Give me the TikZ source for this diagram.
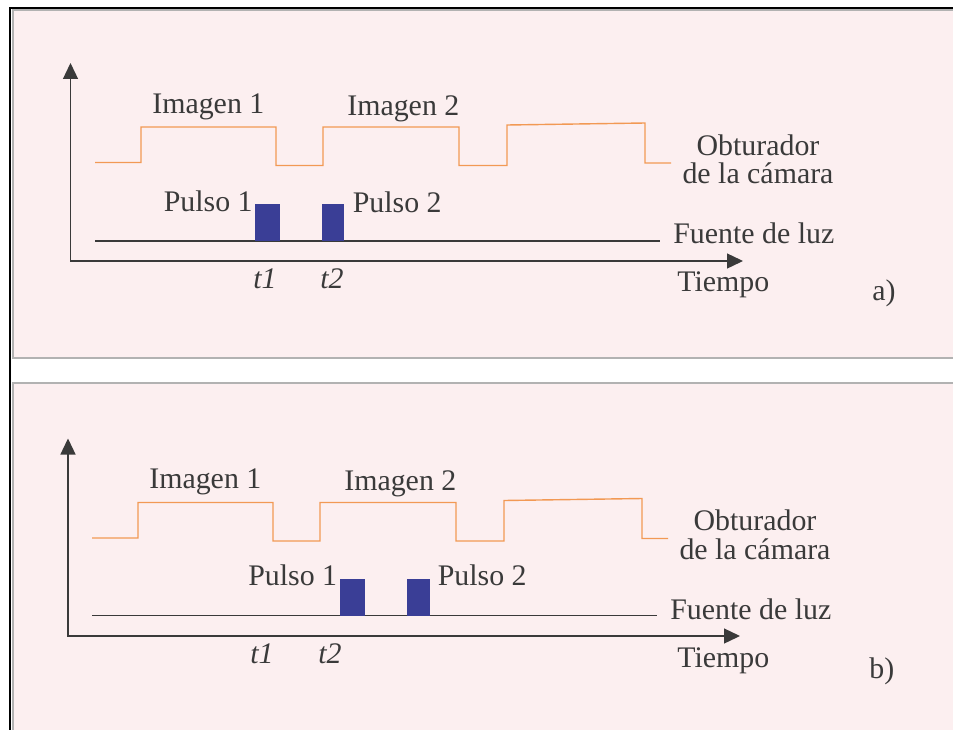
\documentclass[tikz,border=0pt]{standalone}
\usepackage{fontspec}
\setmainfont{Liberation Serif}
\usetikzlibrary{arrows.meta}
\definecolor{panelpink}{RGB}{252,239,240}
\definecolor{shutter}{RGB}{242,153,84}
\definecolor{pulseblue}{RGB}{58,62,150}
\definecolor{ink}{RGB}{58,58,58}
\tikzset{
  lbl/.style={inner sep=0pt, text=ink, font=\fontsize{17}{16.1}\selectfont},
  axis/.style={draw=ink, line width=0.75pt,
    arrows={Triangle[length=3.2mm,width=3mm]-Triangle[length=3.2mm,width=3mm]}},
  obt/.style={draw=shutter, line width=0.8pt},
  luz/.style={draw=ink, line width=0.6pt},
  pulso/.style={fill=pulseblue},
  panel/.style={fill=panelpink, draw=black!30, line width=0.6pt}
}
\begin{document}
\begin{tikzpicture}
		\useasboundingbox (0,0) rectangle (19.06,-14.58);
		% marco y fondos
		\fill[white] (0,0) rectangle (19.06,-14.58);
		\draw[panel] (0.26,-0.2) rectangle (19.3,-7.16);
		\draw[panel] (0.26,-7.66) rectangle (19.3,-14.9);
		\draw[line width=1pt] (19.3,-0.16) -- (0.2,-0.16) -- (0.2,-14.9);
		% a)
		\draw[axis] (1.41,-1.26) -- (1.41,-5.22) -- (14.86,-5.22);
		\draw[obt] (1.90,-3.25) -- (2.82,-3.25) -- (2.82,-2.54) -- (5.52,-2.54) -- (5.52,-3.31) -- (6.46,-3.31) -- (6.46,-2.54) -- (9.18,-2.54) -- (9.18,-3.31) -- (10.14,-3.31) -- (10.14,-2.50) -- (12.90,-2.46) -- (12.90,-3.26) -- (13.42,-3.26);
		\draw[luz] (1.90,-4.82) -- (13.20,-4.82);
		\fill[pulso] (5.09,-4.82) rectangle (5.59,-4.08);
		\fill[pulso] (6.43,-4.82) rectangle (6.87,-4.08);
		\node[lbl, anchor=base west] (img1a) at (3.04,-2.26) {Imagen 1};
		\node[lbl, anchor=base west] (img2a) at (6.94,-2.30) {Imagen 2};
		\node[lbl, anchor=base, align=center] (obta) at (15.16,-3.67) {Obturador\\de la cámara};
		\node[lbl, anchor=base east] (pul1a) at (5.06,-4.23) {Pulso 1};
		\node[lbl, anchor=base west] (pul2a) at (7.05,-4.24) {Pulso 2};
		\node[lbl, anchor=base west] (fuentea) at (13.46,-4.87) {Fuente de luz};
		\node[lbl, anchor=base west] (tiempoa) at (13.54,-5.82) {Tiempo};
		\node[lbl, anchor=base west] (laba) at (17.44,-6.01) {a)};
		\node[lbl, anchor=base] (t1a) at (5.30,-5.77) {\textit{t1}};
		\node[lbl, anchor=base] (t2a) at (6.64,-5.77) {\textit{t2}};
		% b)
		\draw[axis] (1.36,-8.77) -- (1.36,-12.72) -- (14.80,-12.72);
		\draw[obt] (1.84,-10.76) -- (2.76,-10.76) -- (2.76,-10.05) -- (5.46,-10.05) -- (5.46,-10.82) -- (6.40,-10.82) -- (6.40,-10.05) -- (9.12,-10.05) -- (9.12,-10.82) -- (10.08,-10.82) -- (10.08,-10.01) -- (12.84,-9.97) -- (12.84,-10.77) -- (13.36,-10.77);
		\draw[luz] (1.84,-12.31) -- (13.14,-12.31);
		\fill[pulso] (6.79,-12.31) rectangle (7.29,-11.57);
		\fill[pulso] (8.13,-12.31) rectangle (8.59,-11.57);
		\node[lbl, anchor=base west] (img1b) at (2.98,-9.77) {Imagen 1};
		\node[lbl, anchor=base west] (img2b) at (6.88,-9.81) {Imagen 2};
		\node[lbl, anchor=base, align=center] (obtb) at (15.10,-11.18) {Obturador\\de la cámara};
		\node[lbl, anchor=base east] (pul1b) at (6.75,-11.70) {Pulso 1};
		\node[lbl, anchor=base west] (pul2b) at (8.75,-11.70) {Pulso 2};
		\node[lbl, anchor=base west] (fuenteb) at (13.40,-12.38) {Fuente de luz};
		\node[lbl, anchor=base west] (tiempob) at (13.54,-13.34) {Tiempo};
		\node[lbl, anchor=base west] (labb) at (17.38,-13.56) {b)};
		\node[lbl, anchor=base] (t1b) at (5.24,-13.26) {\textit{t1}};
		\node[lbl, anchor=base] (t2b) at (6.60,-13.26) {\textit{t2}};
\end{tikzpicture}
\end{document}
